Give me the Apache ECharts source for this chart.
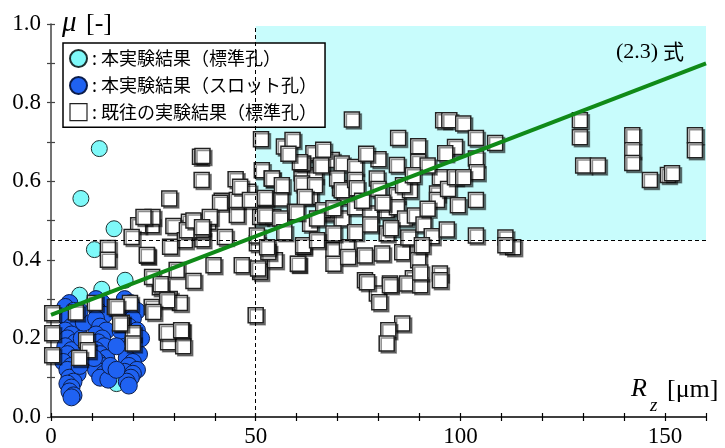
<!DOCTYPE html>
<html><head><meta charset="utf-8">
<script src="https://cdn.jsdelivr.net/npm/echarts@6/dist/echarts.min.js"></script>
<style>html,body{margin:0;padding:0;background:#fff}#c{width:725px;height:448px}</style>
</head><body><div id="c"></div>
<script>
// ---- data ----
const cyanPts = [[11.8,0.683],[7.3,0.556],[15.4,0.479],[10.6,0.426],[18.1,0.348],[12.4,0.325],[7,0.31],[12,0.29],[5,0.09],[5,0.07],[16,0.085],[20,0.12],[4.5,0.1]];
const bluePts = [
[4.5,0.29],[3.5,0.28],[5.5,0.27],[4,0.25],[5,0.23],[3.5,0.22],[5,0.21],[4,0.20],[6,0.19],[3.5,0.18],[5,0.17],[4,0.16],[6,0.15],[3,0.14],[5,0.13],[4,0.12],[6.5,0.11],[4.5,0.10],[5.5,0.09],[4,0.085],[5,0.075],[4.5,0.065],[5.5,0.055],[5,0.05],[7,0.13],[7.5,0.2],[8,0.24],[7,0.27],
[11,0.30],[12.5,0.29],[11.5,0.27],[13,0.26],[11,0.25],[12,0.23],[13.5,0.22],[11,0.21],[12.5,0.20],[11.5,0.19],[13,0.18],[11,0.17],[12,0.16],[13.5,0.15],[11.5,0.14],[12.5,0.13],[11,0.12],[13,0.11],[12,0.10],[14,0.095],[10.5,0.15],[14.5,0.13],
[18,0.30],[19.5,0.29],[21,0.27],[18.5,0.26],[20,0.25],[19,0.23],[21,0.22],[18,0.20],[20,0.19],[19,0.17],[21.5,0.16],[18.5,0.15],[20,0.14],[19,0.13],[21,0.12],[18,0.115],[20,0.11],[19.5,0.10],[18.5,0.09],[19,0.08],[22,0.2],[17,0.22],[16,0.18],[16,0.12]
];
const pastPts = [
[0.3,0.264],[0.3,0.213],[0.3,0.157],
[6.1,0.266],[10.7,0.29],[15.6,0.28],[19.3,0.29],[17.3,0.24],[8.6,0.195],[9,0.17],[6.9,0.15],[20,0.213],[20,0.187],
[26.6,0.33],[29,0.30],[31.5,0.29],[24.6,0.28],[28.3,0.215],[32,0.22],[28.6,0.19],[32.3,0.18],
[13.9,0.43],[13.9,0.40],[23.5,0.41],[24.7,0.356],
[36.4,0.662],[36.8,0.603],[28.9,0.556],[51.3,0.707],[56.9,0.688],[59,0.705],[45.1,0.605],[51.5,0.628],[53.9,0.607],[61.2,0.62],
[64.5,0.615],[68.6,0.654],[71,0.645],[64.1,0.671],[61.6,0.645],[48.2,0.573],[52.3,0.556],[56.1,0.556],[41.7,0.55],[45.4,0.514],
[38.4,0.497],[33.7,0.497],[29.9,0.486],[24.6,0.488],[21.3,0.488],[24.8,0.509],[22.6,0.509],[32.7,0.45],[37,0.452],[42.5,0.458],
[23.4,0.412],[29.1,0.433],[39.7,0.386],[46.6,0.386],[30.7,0.374],[34.8,0.346],[26.8,0.338],[28.4,0.297],[25,0.267],[16,0.28],
[16.9,0.238],[28.3,0.216],[31.8,0.221],[50,0.259],[51.1,0.369],[54.7,0.399],[53.1,0.42],[60.4,0.389],[61.6,0.433],[50.3,0.442],
[69,0.424],[69,0.39],[41.3,0.545],[45.4,0.552],[33.2,0.475],[36.8,0.475],[51.1,0.509],[54.3,0.509],[59.6,0.522],[63.3,0.492],
[68.2,0.518],[71,0.505],[71.8,0.56],[70.6,0.582],[63.3,0.56],[66.5,0.526],[46.2,0.586],[48.6,0.552],[19.7,0.458],[34.8,0.5],
[73.5,0.757],[84.8,0.71],[89.7,0.689],[95.8,0.755],[37,0.664],[60.8,0.648],
[66.5,0.68],[74.3,0.636],[80,0.656],[84.5,0.641],[89.7,0.649],[95,0.61],
[54,0.607],[56.4,0.59],[61.3,0.594],[64.5,0.59],[69.9,0.607],[71,0.577],
[74.3,0.603],[74.7,0.582],[79.6,0.607],[84.5,0.564],[87.7,0.577],[94.3,0.569],[52.3,0.557],
[62,0.56],[38.8,0.509],[52.3,0.513],[56,0.505],[60,0.521],[65,0.505],[69,0.531],[74.3,0.534],[78,0.518],
[82,0.526],[84.5,0.534],[86.5,0.505],[88.9,0.513],[94.3,0.552],[36.9,0.483],[50.3,0.462],[52.8,0.432],[61.6,0.437],
[50.6,0.378],[60.3,0.39],[72.3,0.432],[72.6,0.407],[76.7,0.411],
[80.9,0.416],[85.8,0.419],[89.7,0.432],[89.7,0.399],[95,0.365],[76.7,0.348],[82.8,0.34],[88.4,0.353],[79.6,0.314],
[69,0.467],[74.3,0.47],[82,0.467],[87.3,0.457],[78,0.49],[91,0.49],[76,0.55],[80,0.58],[66,0.64],[77,0.67],
[81,0.545],[92,0.53],[86,0.59],[92,0.64],[97,0.58],[83,0.48],[93,0.46],[57,0.47],[65,0.45],[58,0.67],
[80.2,0.292],[85.8,0.238],[82.4,0.221],[82,0.187],[77.2,0.343],[82.8,0.335],[87,0.34],[90.2,0.335],[95,0.348],
[97.3,0.755],[100.7,0.747],[103.8,0.71],[108.5,0.697],[98.7,0.687],[96.3,0.671],[103.8,0.658],[104,0.623],[88.4,0.615],
[98.7,0.61],[100.7,0.61],[99.4,0.539],[103.8,0.552],[96.7,0.477],[103.8,0.462],[111,0.457],[112.9,0.432],[111,0.437],[90.6,0.437],[90.2,0.368],
[129.2,0.755],[129.2,0.712],[130,0.64],[133.6,0.64],[142,0.717],[142,0.679],[142,0.646],[146.3,0.603],[150.7,0.616],[151.7,0.62],[157.3,0.717],[157.3,0.679]
];
const lineX = [0, 160];
const lineY = [0.26, 0.9];
const regionX = [50, 160];
const regionY = [0.45, 0.995];
const xTicks = [0, 50, 100, 150];
const yTicks = [0.0, 0.2, 0.4, 0.6, 0.8, 1.0];
const names = ['本実験結果（標準孔）', '本実験結果（スロット孔）', '既往の実験結果（標準孔）'];

// ---- chart ----
const chart = echarts.init(document.getElementById('c'), null, {renderer: 'canvas'});
const serif = 'Liberation Serif';
const jp = 'Noto Sans CJK JP';
const lbl = (extra) => Object.assign({color: '#000', fontFamily: serif, fontSize: 23}, extra);
const option = {
  animation: false,
  textStyle: {fontFamily: serif},
  grid: {left: 51, right: 19, top: 24, bottom: 31, containLabel: false},
  xAxis: [
    {type: 'value', min: 0, max: 160, interval: 10, splitLine: {show: false},
      axisLine: {lineStyle: {color: '#000', width: 1.5}},
      axisTick: {length: 4, lineStyle: {color: '#000', width: 1.2}},
      axisLabel: lbl({margin: 8, formatter: v => xTicks.indexOf(v) >= 0 ? String(v) : ''})},
    {type: 'value', min: 0, max: 160, interval: 10, position: 'bottom', splitLine: {show: false},
      axisLine: {show: false}, axisLabel: {show: false},
      axisTick: {inside: true, length: 4, lineStyle: {color: '#000', width: 1.2}}}
  ],
  yAxis: [
    {type: 'value', min: 0, max: 1.0, interval: 0.1, splitLine: {show: false},
      axisLine: {show: true, lineStyle: {color: '#444', width: 1.5}},
      axisTick: {show: true, length: 4, lineStyle: {color: '#444', width: 1.2}},
      axisLabel: lbl({margin: 10,
        formatter: v => { const k = Math.round(v * 10); return yTicks.some(t => Math.round(t * 10) === k) ? (k / 10).toFixed(1) : ''; }})},
    {type: 'value', min: 0, max: 1.0, interval: 0.1, position: 'left', splitLine: {show: false},
      axisLine: {show: false}, axisLabel: {show: false},
      axisTick: {show: true, inside: true, length: 4, lineStyle: {color: '#444', width: 1.2}}}
  ],
  legend: {
    data: [
      {name: names[0], icon: 'circle'},
      {name: names[1], icon: 'circle'},
      {name: names[2], icon: 'rect', itemStyle: {shadowColor: 'transparent', borderColor: '#222', borderWidth: 1.2}}
    ],
    orient: 'vertical', left: 63, top: 43,
    padding: [6, 8, 6, 6], itemGap: 8, itemWidth: 17, itemHeight: 17,
    borderColor: '#000', borderWidth: 1.5, backgroundColor: '#fff',
    formatter: n => ': ' + n,
    textStyle: {fontFamily: jp, fontSize: 18, color: '#000', lineHeight: 18}
  },
  graphic: [
    {type: 'text', left: 616, top: 41, style: {text: '(2.3)', fontFamily: serif, fontSize: 22, fill: '#000'}, z: 100},
    {type: 'text', left: 663, top: 41, style: {text: '式', fontFamily: jp, fontSize: 21, fill: '#000'}, z: 100},
    {type: 'text', left: 62, top: 9, style: {text: 'μ', fontFamily: serif, fontStyle: 'italic', fontSize: 29, fill: '#000'}, z: 100},
    {type: 'text', left: 86, top: 11, style: {text: '[-]', fontFamily: serif, fontSize: 26, fill: '#000'}, z: 100},
    {type: 'text', left: 631, top: 376, style: {text: 'R', fontFamily: serif, fontStyle: 'italic', fontSize: 26, fill: '#000'}, z: 100},
    {type: 'text', left: 650, top: 396, style: {text: 'z', fontFamily: serif, fontStyle: 'italic', fontSize: 19, fill: '#000'}, z: 100},
    {type: 'text', left: 667, top: 377, style: {text: '[μm]', fontFamily: serif, fontSize: 26, fill: '#000'}, z: 100}
  ],
  series: [
    {name: 'bg', type: 'line', data: [[regionX[0], regionY[0]]], symbol: 'none', lineStyle: {opacity: 0}, z: 0, silent: true,
      markArea: {silent: true, itemStyle: {color: '#c8fcfc'},
        data: [[{coord: [regionX[0], regionY[0]]}, {coord: [regionX[1], regionY[1]]}]]},
      markLine: {silent: true, symbol: ['none', 'none'], label: {show: false},
        lineStyle: {color: '#000', type: [4, 3], width: 1},
        data: [
          [{coord: [regionX[0], 0]}, {coord: [regionX[0], regionY[1]]}],
          [{coord: [0, regionY[0]]}, {coord: [regionX[1], regionY[0]]}]
        ]}
    },
    {name: names[0], type: 'scatter', data: cyanPts, symbol: 'circle', symbolSize: 16, z: 2,
      itemStyle: {color: '#7ef9f9', borderColor: '#1d3030', borderWidth: 1, opacity: 1}},
    {name: names[1], type: 'scatter', data: bluePts, symbol: 'circle', symbolSize: 17, z: 3,
      itemStyle: {color: '#1f62f2', borderColor: '#0b1c4a', borderWidth: 1, opacity: 1}},
    {name: names[2], type: 'scatter', data: pastPts, symbol: 'rect', symbolSize: 15, z: 4,
      itemStyle: {color: '#fff', borderColor: '#222', borderWidth: 1.5, opacity: 1,
        shadowColor: 'rgba(0,0,0,0.45)', shadowOffsetX: 2, shadowOffsetY: 2, shadowBlur: 0}},
    {name: 'eq', type: 'line', data: lineX.map((x, i) => [x, lineY[i]]), symbol: 'none', z: 5,
      lineStyle: {color: '#108a18', width: 4}}
  ]
};
chart.setOption(option);
</script></body></html>
